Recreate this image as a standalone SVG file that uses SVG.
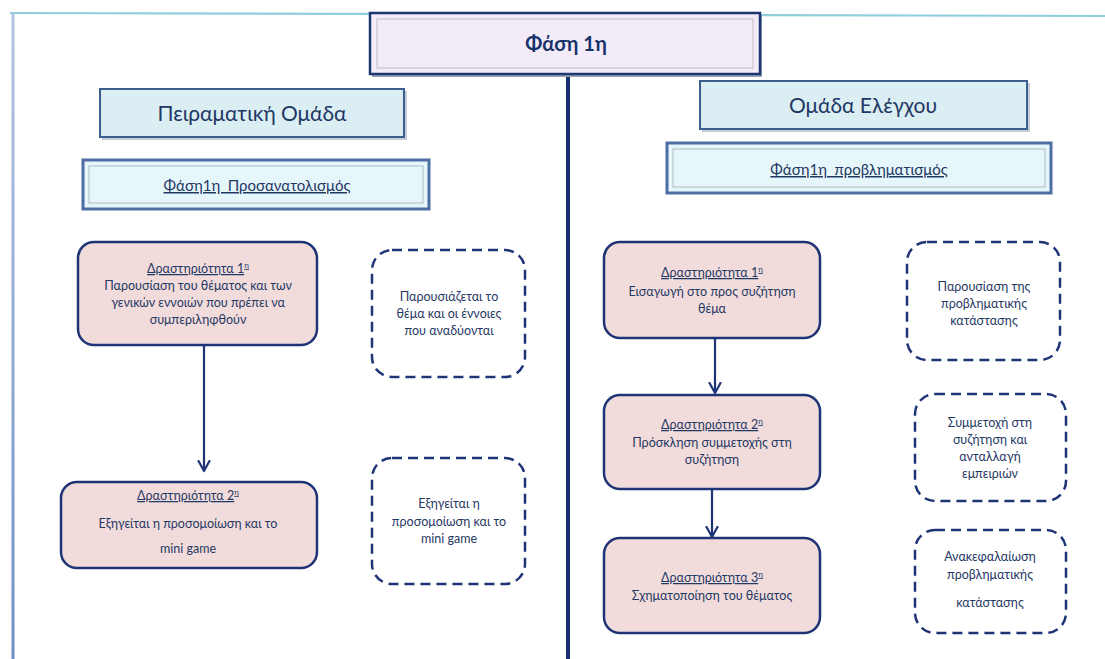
<svg xmlns="http://www.w3.org/2000/svg" width="1105" height="659" viewBox="0 0 1105 659">
  <defs>
    <marker id="arrow" viewBox="0 0 14 14" refX="11" refY="7" markerWidth="14" markerHeight="14" markerUnits="userSpaceOnUse" orient="auto">
      <path d="M1,1.5 L11,7 L1,12.5" fill="none" stroke="#1f3476" stroke-width="2.2" stroke-linecap="round" stroke-linejoin="round"/>
    </marker>
    <linearGradient id="frameLeft" gradientUnits="userSpaceOnUse" x1="0" y1="13" x2="0" y2="659">
      <stop offset="0" stop-color="#b4c4e0"/>
      <stop offset="1" stop-color="#6f8fc6"/>
    </linearGradient>
  </defs>
  <style>
    text { font-family: Lato, "Open Sans", "Liberation Sans", sans-serif; fill: #1f3864; text-anchor: middle; }
    .title { font-size: 20px; font-weight: bold; fill: #17326a; }
    .group { font-size: 21px; }
    .phase { font-size: 15px; text-decoration: underline; }
    .act { font-size: 12.5px; }
    .head { text-decoration: underline; }
    .note { font-size: 12.5px; }
    .shadow { fill: #c8ccd6; }
    .groupBox { fill: #dbeef4; stroke: #3d5f90; stroke-width: 2; }
    .phaseBox { fill: #e6f7fb; stroke: #4f6fa3; stroke-width: 3; }
    .phaseInner { fill: none; stroke: #b9c3cc; stroke-width: 1.2; }
    .activity { fill: #f2dcdb; stroke: #1f3476; stroke-width: 2.5; }
    .note-box { fill: #ffffff; stroke: #1f3476; stroke-width: 2.5; stroke-dasharray: 10 6; }
    .link { fill: none; stroke: #1f3476; stroke-width: 2.2; }
  </style>

  <rect width="1105" height="659" fill="#ffffff"/>

  <!-- page frame -->
  <g id="frame">
    <line x1="10" y1="13" x2="1105" y2="16" stroke="#8ecedd" stroke-width="2.2"/>
    <rect x="11.5" y="13" width="3" height="646" fill="url(#frameLeft)"/>
  </g>

  <!-- connectors -->
  <g id="connectors">
    <line x1="568" y1="74" x2="568" y2="659" stroke="#17306e" stroke-width="4"/>
    <line class="link" x1="204" y1="346" x2="204" y2="471" marker-end="url(#arrow)"/>
    <line class="link" x1="715" y1="339" x2="715" y2="393" marker-end="url(#arrow)"/>
    <line class="link" x1="712" y1="490" x2="712" y2="537" marker-end="url(#arrow)"/>
  </g>

  <!-- top-level phase -->
  <g id="phase-title">
    <rect x="372" y="15" width="390" height="62" fill="#9aa3b5"/>
    <rect x="370" y="13" width="390" height="61" fill="#f3ecf8" stroke="#1d3570" stroke-width="2.5"/>
    <rect x="377" y="19" width="376" height="49" fill="none" stroke="#c9c4cf" stroke-width="1.2"/>
    <text class="title" x="566" y="51">Φάση 1η</text>
  </g>

  <!-- experimental group -->
  <g id="group-experimental">
    <rect x="102" y="91" width="305" height="49" class="shadow"/>
    <rect x="100" y="89" width="304" height="48" class="groupBox"/>
    <text class="group" x="252" y="121">Πειραματική Ομάδα</text>
  </g>

  <!-- control group -->
  <g id="group-control">
    <rect x="702" y="83" width="328" height="49" class="shadow"/>
    <rect x="700" y="81" width="327" height="48" class="groupBox"/>
    <text class="group" x="863" y="113">Ομάδα Ελέγχου</text>
  </g>

  <!-- phase labels -->
  <g id="phase-orientation">
    <rect x="83" y="160" width="346" height="49" class="phaseBox"/>
    <rect x="89" y="166" width="334" height="37" class="phaseInner"/>
    <text class="phase" x="257" y="191">Φάση1η&#160; Προσανατολισμός</text>
  </g>
  <g id="phase-problematisation">
    <rect x="667" y="143" width="384" height="50" class="phaseBox"/>
    <rect x="673" y="149" width="372" height="38" class="phaseInner"/>
    <text class="phase" x="859" y="175">Φάση1η&#160; προβληματισμός</text>
  </g>

  <!-- experimental group activities -->
  <g id="exp-activity-1">
    <rect x="78" y="242" width="239" height="103" rx="16" class="activity"/>
    <text class="act" x="198" y="273"><tspan class="head">Δραστηριότητα 1<tspan font-size="8" dy="-5">η</tspan></tspan></text>
    <text class="act" x="198" y="290">Παρουσίαση του θέματος και των</text>
    <text class="act" x="198" y="307">γενικών εννοιών που πρέπει να</text>
    <text class="act" x="198" y="324">συμπεριληφθούν</text>
  </g>
  <g id="exp-activity-2">
    <rect x="61" y="482" width="256" height="86" rx="16" class="activity"/>
    <text class="act" x="188" y="500"><tspan class="head">Δραστηριότητα 2<tspan font-size="8" dy="-5">η</tspan></tspan></text>
    <text class="act" x="188" y="528">Εξηγείται η προσομοίωση και το</text>
    <text class="act" x="188" y="553">mini game</text>
  </g>

  <!-- experimental group notes -->
  <g id="exp-note-1">
    <rect x="372" y="250" width="153" height="127" rx="20" class="note-box"/>
    <text class="note" x="449" y="301">Παρουσιάζεται το</text>
    <text class="note" x="449" y="318">θέμα και οι έννοιες</text>
    <text class="note" x="449" y="335">που αναδύονται</text>
  </g>
  <g id="exp-note-2">
    <rect x="372" y="458" width="153" height="126" rx="20" class="note-box"/>
    <text class="note" x="449" y="508">Εξηγείται η</text>
    <text class="note" x="449" y="526">προσομοίωση και το</text>
    <text class="note" x="449" y="543">mini game</text>
  </g>

  <!-- control group activities -->
  <g id="ctrl-activity-1">
    <rect x="604" y="242" width="216" height="96" rx="16" class="activity"/>
    <text class="act" x="712" y="277"><tspan class="head">Δραστηριότητα 1<tspan font-size="8" dy="-5">η</tspan></tspan></text>
    <text class="act" x="712" y="296">Εισαγωγή στο προς συζήτηση</text>
    <text class="act" x="712" y="313">θέμα</text>
  </g>
  <g id="ctrl-activity-2">
    <rect x="604" y="395" width="216" height="94" rx="16" class="activity"/>
    <text class="act" x="712" y="429"><tspan class="head">Δραστηριότητα 2<tspan font-size="8" dy="-5">η</tspan></tspan></text>
    <text class="act" x="712" y="447">Πρόσκληση συμμετοχής στη</text>
    <text class="act" x="712" y="464">συζήτηση</text>
  </g>
  <g id="ctrl-activity-3">
    <rect x="604" y="538" width="216" height="95" rx="16" class="activity"/>
    <text class="act" x="712" y="582"><tspan class="head">Δραστηριότητα 3<tspan font-size="8" dy="-5">η</tspan></tspan></text>
    <text class="act" x="712" y="600">Σχηματοποίηση του θέματος</text>
  </g>

  <!-- control group notes -->
  <g id="ctrl-note-1">
    <rect x="907" y="242" width="153" height="118" rx="20" class="note-box"/>
    <text class="note" x="984" y="291">Παρουσίαση της</text>
    <text class="note" x="984" y="308">προβληματικής</text>
    <text class="note" x="984" y="325">κατάστασης</text>
  </g>
  <g id="ctrl-note-2">
    <rect x="915" y="394" width="151" height="107" rx="20" class="note-box"/>
    <text class="note" x="990" y="427">Συμμετοχή στη</text>
    <text class="note" x="990" y="444">συζήτηση και</text>
    <text class="note" x="990" y="461">ανταλλαγή</text>
    <text class="note" x="990" y="478">εμπειριών</text>
  </g>
  <g id="ctrl-note-3">
    <rect x="915" y="530" width="151" height="103" rx="20" class="note-box"/>
    <text class="note" x="990" y="561">Ανακεφαλαίωση</text>
    <text class="note" x="990" y="579">προβληματικής</text>
    <text class="note" x="990" y="607">κατάστασης</text>
  </g>
</svg>
